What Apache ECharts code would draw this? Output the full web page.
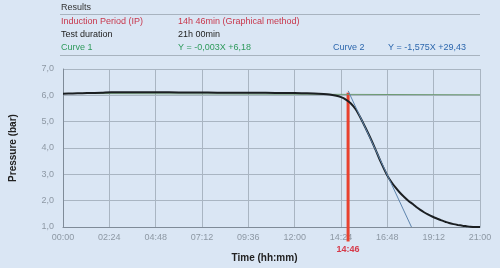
<!DOCTYPE html>
<html>
<head>
<meta charset="utf-8">
<script src="https://cdn.jsdelivr.net/npm/echarts@6/dist/echarts.min.js"></script>
<style>
html,body{margin:0;padding:0;background:#dae6f4;}
#c{width:500px;height:268px;}
</style>
</head>
<body>
<div id="c"></div>
<script>
// ---- data (time in hours, pressure in bar) ----
var timeH = [0, 0.5, 1, 1.5, 2, 2.5, 3, 4, 5, 6, 7, 8, 9, 10, 11, 12, 12.5, 13, 13.5, 13.8, 14.1, 14.4, 14.65, 14.9, 15.15, 15.43, 15.7, 15.94, 16.2, 16.46, 16.8, 17.0, 17.2, 17.43, 17.66, 17.9, 18.1, 18.3, 18.51, 18.7, 18.9, 19.15, 19.37, 19.6, 19.8, 20.0, 20.23, 20.45, 20.7, 20.9, 21.1, 21.35, 21.6];
var pressure = [6.06, 6.07, 6.08, 6.09, 6.10, 6.12, 6.12, 6.12, 6.12, 6.11, 6.11, 6.10, 6.10, 6.10, 6.09, 6.09, 6.08, 6.07, 6.05, 6.03, 5.99, 5.93, 5.84, 5.70, 5.48, 5.12, 4.72, 4.35, 3.92, 3.47, 2.95, 2.72, 2.52, 2.32, 2.15, 1.99, 1.88, 1.76, 1.65, 1.56, 1.48, 1.39, 1.32, 1.25, 1.20, 1.15, 1.11, 1.08, 1.05, 1.03, 1.01, 1.00, 1.00];
var curve1X = [0, 21.6];
var curve1Y = [6.07, 6.02];
var curve2X = [14.77, 18.05];
var curve2Y = [6.17, 1.0];
var ipX = [14.767, 14.767];
var ipY = [6.1, 0.45];
var ipLabel = "14:46";
var xTickLabels = ["00:00", "02:24", "04:48", "07:12", "09:36", "12:00", "14:24", "16:48", "19:12", "21:00"];
var yTickLabels = ["1,0", "2,0", "3,0", "4,0", "5,0", "6,0", "7,0"];
var results = [
  ["Induction Period (IP)", "14h 46min (Graphical method)"],
  ["Test duration", "21h 00min"],
  ["Curve 1", "Y = -0,003X +6,18", "Curve 2", "Y = -1,575X +29,43"]
];

function pairs(xs, ys) { return xs.map(function (x, i) { return [x, ys[i]]; }); }

var FONT = '"Liberation Sans", Arial, sans-serif';
var chart = echarts.init(document.getElementById('c'), null, {renderer: 'canvas'});

function txt(x, y, s, color) {
  return {type: 'text', left: x, top: y, style: {text: s, fill: color, font: '9px ' + FONT}};
}
var graphics = [
  txt(61, 3, 'Results', '#333'),
  {type: 'line', shape: {x1: 60, y1: 14.5, x2: 480, y2: 14.5}, style: {stroke: '#a8b3bf', lineWidth: 1}},
  txt(61, 17, results[0][0], '#c8374c'),
  txt(178, 17, results[0][1], '#c8374c'),
  txt(61, 30, results[1][0], '#222'),
  txt(178, 30, results[1][1], '#222'),
  txt(61, 43, results[2][0], '#2f9a5c'),
  txt(178, 43, results[2][1], '#2f9a5c'),
  txt(333, 43, results[2][2], '#2d67ad'),
  txt(388, 43, results[2][3], '#2d67ad'),
  {type: 'line', shape: {x1: 60, y1: 55.5, x2: 480, y2: 55.5}, style: {stroke: '#a8b3bf', lineWidth: 1}}
];

chart.setOption({
  backgroundColor: '#dae6f4',
  animation: false,
  graphic: graphics,
  grid: {left: 60, right: 20, top: 69, bottom: 41},
  xAxis: [{
    type: 'value', min: 0, max: 21.6, interval: 2.4,
    name: 'Time (hh:mm)', nameLocation: 'middle', nameGap: 26,
    nameTextStyle: {color: '#222', fontWeight: 'bold', fontSize: 10, fontFamily: FONT, padding: [0, 14, 0, 0]},
    axisLine: {show: true, lineStyle: {color: '#7f8b98', width: 1}},
    axisTick: {show: false},
    axisLabel: {color: '#8d98a4', fontSize: 9, fontFamily: FONT, margin: 6,
      formatter: function (v) { return xTickLabels[Math.round(v / 2.4)] || ''; }},
    splitLine: {show: true, lineStyle: {color: '#a9b5c2', width: 1}}
  }, {
    type: 'value', min: 0, max: 21.6, position: 'bottom', offset: 12,
    axisLine: {show: false}, axisTick: {show: false}, splitLine: {show: false},
    axisLabel: {customValues: [ipX[0]], color: '#d63a4a', fontSize: 9, fontWeight: 'bold', fontFamily: FONT, margin: 6,
      formatter: function () { return ipLabel; }}
  }],
  yAxis: {
    type: 'value', min: 1, max: 7, interval: 1,
    name: 'Pressure (bar)', nameLocation: 'middle', nameGap: 45,
    nameTextStyle: {color: '#222', fontWeight: 'bold', fontSize: 10, fontFamily: FONT},
    axisLine: {show: true, lineStyle: {color: '#7f8b98', width: 1}},
    axisTick: {show: false},
    axisLabel: {color: '#8d98a4', fontSize: 9, fontFamily: FONT, margin: 9,
      formatter: function (v) { return yTickLabels[Math.round(v - 1)] || ''; }},
    splitLine: {show: true, lineStyle: {color: '#a9b5c2', width: 1}}
  },
  series: [
    {type: 'line', data: pairs(curve1X, curve1Y), symbol: 'none', lineStyle: {color: '#6d9a72', width: 1}, z: 2},
    {type: 'line', data: pairs(timeH, pressure), symbol: 'none', smooth: 0.25, lineStyle: {color: '#1b1f22', width: 2}, z: 3},
    {type: 'line', data: pairs(curve2X, curve2Y), symbol: 'none', lineStyle: {color: '#5d84ad', width: 1}, z: 4},
    {type: 'line', data: pairs(ipX, ipY), symbol: 'none', clip: false, lineStyle: {color: '#e8412f', width: 3}, z: 1}
  ]
});
</script>
</body>
</html>
